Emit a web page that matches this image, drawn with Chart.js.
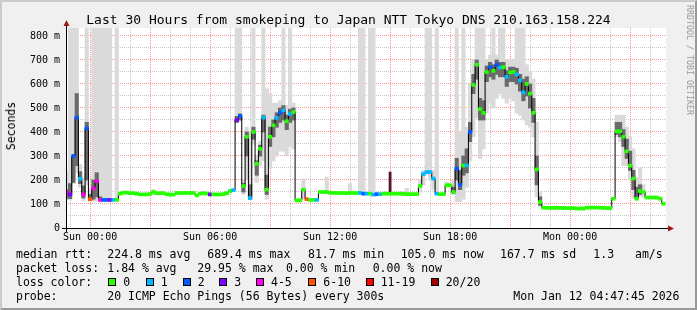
<!DOCTYPE html>
<html>
<head>
<meta charset="utf-8">
<title>smokeping - Japan NTT Tokyo DNS</title>
<script src="https://cdn.jsdelivr.net/npm/chart.js@4.4.1/dist/chart.umd.min.js"></script>
<style>
  html, body { margin: 0; padding: 0; background: #f0f0f0; }
  #page { position: relative; width: 697px; height: 310px; overflow: hidden; background: #f0f0f0;
          font-family: "DejaVu Sans Mono", monospace; color: #000; }
  #page canvas { position: absolute; left: 0; top: 0; }
  #edge { position: absolute; left: 0; top: 0; width: 697px; height: 310px; box-sizing: border-box; pointer-events: none;
          border-top: 2px solid #cbcbcb; border-left: 2px solid #cbcbcb;
          border-right: 2px solid #999; border-bottom: 2px solid #999; }
  .t { position: absolute; white-space: pre; font-size: 11.5px; line-height: 14px; }
  #title { left: 0; width: 697px; top: 12px; text-align: center; font-size: 13px; line-height: 15px; }
  #ylab { left: 10.8px; top: 126px; transform: translate(-50%, -50%) rotate(-90deg); }
  #sig { left: 690px; top: 60px; transform: translate(-50%, -50%) rotate(90deg); font-size: 8.3px; line-height: 10px; color: #999; }
  .box { position: absolute; width: 8px; height: 8px; box-sizing: border-box; border: 1px solid #000; top: 278px; }
</style>
</head>
<body>
<div id="page">
  <canvas id="smoke" width="697" height="310"></canvas>
  <div class="t" id="title">Last 30 Hours from smokeping to Japan NTT Tokyo DNS 210.163.158.224</div>
  <div class="t" id="ylab">Seconds</div>
  <div class="t" id="sig">RRDTOOL / TOBI OETIKER</div>

  <span class="t" style="left:16px;top:247px">median rtt:</span>
  <span class="t" style="left:107.3px;top:247px">224.8 ms avg</span>
  <span class="t" style="left:207.3px;top:247px">689.4 ms max</span>
  <span class="t" style="left:308px;top:247px">81.7 ms min</span>
  <span class="t" style="left:400.7px;top:247px">105.0 ms now</span>
  <span class="t" style="left:500px;top:247px">167.7 ms sd</span>
  <span class="t" style="left:593.3px;top:247px">1.3</span>
  <span class="t" style="left:635px;top:247px">am/s</span>

  <span class="t" style="left:16px;top:261px">packet loss:</span>
  <span class="t" style="left:107.3px;top:261px">1.84 % avg</span>
  <span class="t" style="left:197.3px;top:261px">29.95 % max</span>
  <span class="t" style="left:286px;top:261px">0.00 % min</span>
  <span class="t" style="left:372.7px;top:261px">0.00 % now</span>

  <span class="t" style="left:16px;top:275px">loss color:</span>
  <div id="lossLegend"></div>

  <span class="t" style="left:16px;top:288.5px">probe:</span>
  <span class="t" style="left:107.3px;top:288.5px">20 ICMP Echo Pings (56 Bytes) every 300s</span>
  <span class="t" style="left:513.3px;top:288.5px">Mon Jan 12 04:47:45 2026</span>
  <div id="edge"></div>
</div>
<script>
// 10-minute samples, hours relative to Sun 00:00; first sample Sat 22:50.
const firstHour = -70 / 60;
const stepHours = 10 / 60;
const endHour = 28 + 47.75 / 60;          // Mon 04:47:45
const startHour = endHour - 30;

// median rtt (ms), one value per sample
const median = [
  150, 140, 300, 460, 205, 140, 415, 120, 165, 195,
  117, 117, 117, 117, 117, 117, 143, 147, 147, 145,
  145, 143, 140, 140, 140, 142, 150, 145, 145, 145,
  141, 139, 139, 146, 146, 146, 146, 146, 146, 136,
  143, 145, 143, 140, 140, 140, 140, 141, 145, 154,
  158, 450, 467, 175, 380, 125, 400, 268, 330, 460,
  160, 380, 428, 459, 480, 490, 445, 475, 483, 115,
  115, 160, 120, 117, 117, 117, 150, 150, 150, 147,
  146, 146, 146, 146, 145, 146, 146, 146, 146, 143,
  143, 143, 139, 141, 141, 143, 143, 143, 143, 143,
  143, 143, 141, 141, 141, 141, 175, 225, 233, 233,
  206, 143, 141, 141, 178, 178, 150, 247, 180, 260,
  261, 400, 596, 680, 495, 480, 650, 670, 655, 680,
  668, 670, 630, 648, 650, 640, 615, 565, 600, 560,
  480, 244, 108, 85, 84, 84, 84, 84, 84, 83,
  83, 83, 83, 81, 81, 81, 85, 85, 85, 85,
  85, 84, 83, 83, 122, 403, 403, 380, 320, 260,
  206, 122, 154, 150, 127, 127, 127, 127, 122, 101
];

// lost pings out of 20, per sample
const loss = [
  4, 3, 2, 2, 1, 4, 2, 6, 4, 4,
  4, 2, 2, 3, 1, 0, 0, 0, 0, 0,
  0, 0, 0, 0, 0, 0, 0, 0, 0, 0,
  0, 0, 0, 0, 0, 0, 0, 0, 0, 0,
  0, 0, 0, 3, 0, 0, 0, 0, 0, 0,
  1, 3, 2, 0, 0, 1, 0, 0, 0, 1,
  0, 0, 0, 1, 2, 1, 0, 1, 0, 0,
  0, 0, 6, 0, 0, 1, 0, 0, 0, 0,
  0, 0, 0, 0, 0, 0, 0, 0, 1, 2,
  1, 0, 1, 2, 1, 0, 0, 0, 0, 0,
  0, 0, 0, 0, 0, 0, 0, 1, 1, 1,
  1, 1, 0, 0, 0, 0, 0, 2, 2, 0,
  1, 2, 0, 0, 0, 0, 0, 2, 0, 2,
  1, 0, 1, 0, 0, 1, 1, 1, 0, 0,
  0, 0, 0, 0, 0, 0, 0, 0, 0, 0,
  0, 0, 0, 0, 0, 0, 0, 0, 0, 0,
  0, 0, 0, 0, 0, 0, 0, 0, 0, 0,
  0, 0, 0, 0, 0, 0, 0, 0, 0, 0
];

// outer (light) smoke: [fastest, slowest] ping in ms, 900 = off the top
const smokeOuter = [
  [118,235],[120,900],[185,900],[230,900],[170,265],[115,210],[180,900],[112,165],[112,900],[112,900],
  [112,900],[115,900],[115,900],[117,900],null,[117,900],null,null,null,null,
  null,null,null,null,null,null,[140,160],null,null,null,
  null,null,null,null,null,null,null,null,null,null,
  null,null,null,null,null,null,null,null,null,null,
  null,[440,900],[445,900],[140,200],[200,420],[118,400],[350,900],[190,300],[260,360],[280,900],
  [120,580],[250,560],[280,520],[300,520],[320,530],[320,900],[300,510],[340,900],[330,520],null,
  null,[120,205],null,null,null,null,null,null,[145,212],null,
  null,null,null,null,null,[145,185],null,null,[140,900],[140,900],
  null,[140,900],[140,900],null,null,null,null,null,null,null,
  null,null,[138,165],null,null,null,[150,200],[180,240],[225,900],[200,900],
  [160,240],[140,900],null,null,[170,190],null,[140,200],[110,900],[110,400],[120,900],
  [170,420],[280,600],[380,700],[460,900],[290,900],[330,900],[480,700],[520,720],[500,900],[540,720],
  [560,900],[540,900],[520,700],[540,700],[530,700],[480,900],[470,900],[450,900],[430,680],[420,650],
  [380,620],[130,440],[90,150],null,null,null,null,null,null,null,
  null,null,null,null,null,null,null,null,null,null,
  null,null,null,null,null,[380,470],[360,470],[260,470],[260,420],[200,380],
  [125,330],[120,210],[130,250],[130,180],null,null,null,null,null,null
];

// dense (dark) smoke hugging the median
const smokeCore = [
  [125,160],[122,185],[190,300],[260,560],[185,235],[125,175],[200,440],[115,140],[120,200],[130,230],
  [115,130],null,null,null,null,null,null,null,null,null,
  null,null,null,null,null,null,null,null,null,null,
  null,null,null,null,null,null,null,null,null,null,
  null,null,null,null,null,null,null,null,null,null,
  null,[440,465],[450,475],[150,185],[300,400],[120,180],[370,420],[220,280],[300,345],[400,470],
  [140,220],[340,420],[380,450],[420,480],[440,500],[450,510],[410,470],[440,495],[450,500],null,
  null,null,null,null,null,null,null,null,null,null,
  null,null,null,null,null,null,null,null,null,null,
  null,null,null,null,null,null,null,null,null,null,
  null,null,null,null,null,null,null,null,null,null,
  null,null,null,null,null,null,[145,170],[200,290],[160,240],[220,300],
  [230,330],[360,440],[560,640],[620,700],[450,540],[450,530],[610,675],[630,690],[620,680],[640,700],
  [630,690],[630,690],[590,655],[610,670],[610,670],[600,665],[570,640],[530,620],[550,630],[500,600],
  [440,540],[180,300],[95,130],null,null,null,null,null,null,null,
  null,null,null,null,null,null,null,null,null,null,
  null,null,null,null,null,[390,440],[380,440],[340,410],[290,370],[240,320],
  [160,240],[125,170],[140,180],null,null,null,null,null,null,null
];

// the single dark loss streak near Sun 14:00
const lossMarkIndex = [97];
const lossMarkTop = [233];

const hourGrid = [-1, 0, 1, 2, 3, 4, 5, 6, 7, 8, 9, 10, 11, 12, 13, 14, 15, 16, 17, 18, 19, 20, 21, 22, 23, 24, 25, 26, 27, 28];
const hourLabelAt = [0, 6, 12, 18, 24];
const hourLabelText = ["Sun 00:00", "Sun 06:00", "Sun 12:00", "Sun 18:00", "Mon 00:00"];
const yGrid = [0, 50, 100, 150, 200, 250, 300, 350, 400, 450, 500, 550, 600, 650, 700, 750, 800];
const yLabelAt = [0, 100, 200, 300, 400, 500, 600, 700, 800];
const yLabelText = ["0", "100 m", "200 m", "300 m", "400 m", "500 m", "600 m", "700 m", "800 m"];

const lossBins = [0, 1, 2, 3, 4, 6, 11, 20];
const lossNames = ["0", "1", "2", "3", "4-5", "6-10", "11-19", "20/20"];
const lossColors = ["#26ff00", "#00b8ff", "#0059ff", "#7e00ff", "#ff00ea", "#ff5500", "#ff0000", "#a10000"];

const majorColor = "rgba(255,0,0,0.42)";
const minorColor = "#c8c8c8";
const markHalf = 6;  // half height of the coloured median marks, ms

function lossColor(n) {
  let c = lossColors[0];
  lossBins.forEach((b, k) => { if (n >= b) c = lossColors[k]; });
  return c;
}
const hourAt = i => firstHour + i * stepHours;
const spans = arr => arr.map((v, i) => v ? { x: hourAt(i), y: v } : null).filter(Boolean);

// loss colour legend
(function () {
  const boxX = [108.3, 145.7, 182.7, 219.3, 256, 308.3, 365.7, 430.7];
  const host = document.getElementById("lossLegend");
  host.innerHTML = lossNames.map((n, k) =>
    `<div class="box" style="left:${boxX[k]}px;background:${lossColors[k]}"></div>` +
    `<span class="t" style="left:${boxX[k] + 15}px;top:275px">${n}</span>`).join("");
})();

const rrdFrame = {
  id: "rrdFrame",
  beforeDraw(c) {
    const { ctx, chartArea: a } = c;
    ctx.save();
    ctx.fillStyle = "#fff";
    ctx.fillRect(a.left, a.top, a.right - a.left, a.bottom - a.top);
    ctx.restore();
  },
  afterDraw(c) {
    const { ctx, chartArea: a } = c;
    const ax = a.left + 0.5, ay = a.bottom + 0.5;
    ctx.save();
    ctx.strokeStyle = "#000";
    ctx.lineWidth = 1;
    ctx.beginPath();
    ctx.moveTo(a.left - 4, ay); ctx.lineTo(a.right + 4, ay);
    ctx.moveTo(ax, a.bottom + 4); ctx.lineTo(ax, a.top - 4);
    ctx.stroke();
    ctx.fillStyle = "#a01818";
    ctx.beginPath();
    ctx.moveTo(ax - 3, a.top - 2); ctx.lineTo(ax + 3, a.top - 2); ctx.lineTo(ax, a.top - 8);
    ctx.closePath(); ctx.fill();
    ctx.beginPath();
    ctx.moveTo(a.right + 2, ay - 3); ctx.lineTo(a.right + 2, ay + 3); ctx.lineTo(a.right + 8, ay);
    ctx.closePath(); ctx.fill();
    ctx.restore();
  }
};

Chart.defaults.font.family = '"DejaVu Sans Mono", monospace';
Chart.defaults.font.size = 10;
Chart.defaults.color = "#000";

new Chart(document.getElementById("smoke"), {
  type: "bar",
  data: {
    datasets: [
      { type: "bar", order: 0,
        data: median.map((m, i) => ({ x: hourAt(i), y: [m - markHalf, m + markHalf] })),
        backgroundColor: loss.map(lossColor) },
      { type: "bar", order: 1, barThickness: 2,
        data: lossMarkIndex.map((k, j) => ({ x: hourAt(k), y: [median[k], lossMarkTop[j]] })),
        backgroundColor: "#5b1030" },
      { type: "line", order: 2,
        data: median.map((m, i) => ({ x: hourAt(i), y: m })),
        stepped: "middle", borderColor: "#000", borderWidth: 1, pointRadius: 0 },
      { type: "bar", order: 3, data: spans(smokeCore), backgroundColor: "#6a6a6a" },
      { type: "bar", order: 4, data: spans(smokeOuter), backgroundColor: "#dadada" }
    ]
  },
  options: {
    responsive: false,
    animation: false,
    events: [],
    layout: { padding: { left: 0, top: 28, right: 31, bottom: 0 } },
    datasets: { bar: { grouped: false, barPercentage: 1, categoryPercentage: 1, borderWidth: 0, inflateAmount: 0.4 } },
    plugins: { legend: { display: false }, tooltip: { enabled: false } },
    scales: {
      x: {
        type: "linear", min: startHour, max: endHour, offset: false, z: 1,
        afterBuildTicks: s => { s.ticks = hourGrid.map(v => ({ value: v })); },
        afterFit: s => { s.height = 82; },
        grid: { offset: false, drawTicks: false, lineWidth: 1,
                color: c => (c.tick && c.tick.value % 3 === 0) ? majorColor : minorColor },
        border: { display: false, dash: [1, 1] },
        ticks: { autoSkip: false, maxRotation: 0, padding: 3,
                 callback: v => { const k = hourLabelAt.indexOf(v); return k < 0 ? "" : hourLabelText[k]; } }
      },
      y: {
        type: "linear", min: 0, max: 833.33, z: 1,
        afterBuildTicks: s => { s.ticks = yGrid.map(v => ({ value: v })); },
        afterFit: s => { s.width = 66; },
        grid: { drawTicks: false, lineWidth: 1,
                color: c => (c.tick && c.tick.value % 100 === 0) ? majorColor : minorColor },
        border: { display: false, dash: [1, 1] },
        ticks: { autoSkip: false, padding: 6,
                 callback: v => { const k = yLabelAt.indexOf(v); return k < 0 ? "" : yLabelText[k]; } }
      }
    }
  },
  plugins: [rrdFrame]
});
</script>
</body>
</html>
